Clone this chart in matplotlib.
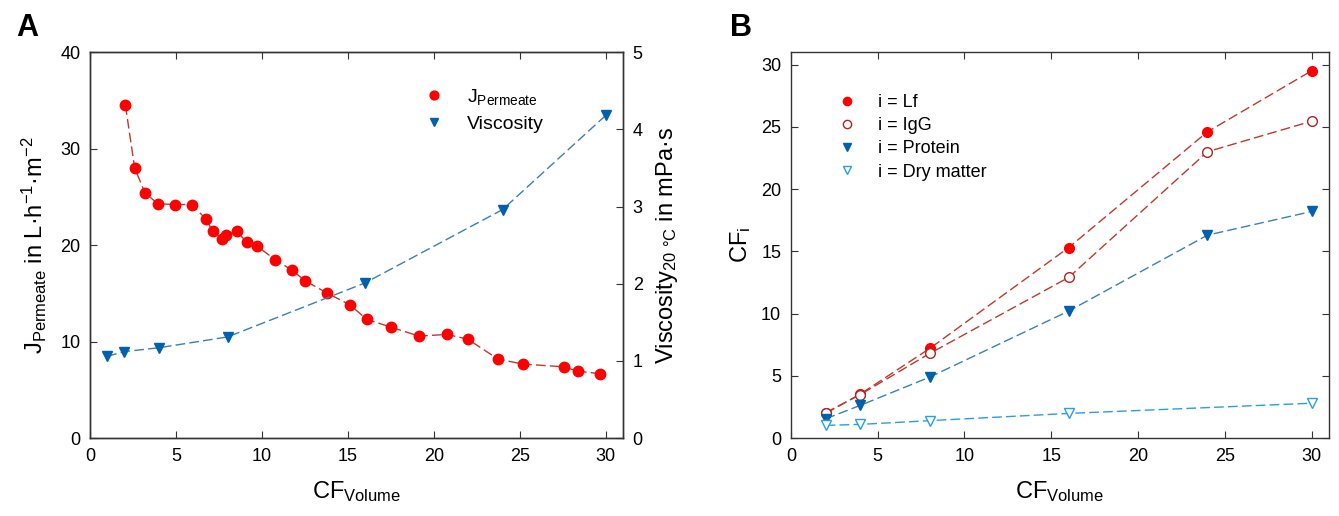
import matplotlib
matplotlib.use("Agg")
import matplotlib.pyplot as plt

plt.rcParams['font.family'] = ['Liberation Sans', 'DejaVu Sans']
plt.rcParams['mathtext.default'] = 'regular'

# panel A: permeate flux and viscosity vs volume concentration factor
cf_flux = [2.06, 2.6, 3.2, 3.94, 4.93, 5.93, 6.74, 7.14, 7.7, 7.93, 8.53, 9.12, 9.72,
           10.76, 11.75, 12.52, 13.76, 15.13, 16.1, 17.5, 19.14, 20.75, 21.97, 23.73,
           25.17, 27.55, 28.37, 29.66]
flux = [34.5, 28.0, 25.4, 24.3, 24.2, 24.2, 22.7, 21.45, 20.65, 21.07, 21.45, 20.3, 19.9,
        18.5, 17.4, 16.3, 15.06, 13.8, 12.3, 11.5, 10.57, 10.74, 10.26, 8.19,
        7.67, 7.39, 6.94, 6.67]
cf_visc = [1, 2, 4, 8, 16, 24, 30]
visc = [1.06, 1.12, 1.17, 1.31, 2.01, 2.96, 4.18]

# panel B: concentration factors of components
cf_b = [2, 4, 8, 16, 24, 30]
cf_lf = [1.98, 3.54, 7.2, 15.3, 24.6, 29.5]
cf_igg = [2.04, 3.5, 6.8, 12.9, 23.0, 25.45]
cf_protein = [1.55, 2.63, 4.9, 10.2, 16.3, 18.2]
cf_b_dm = [2, 4, 8, 16, 30]
cf_dm = [1.02, 1.1, 1.4, 1.98, 2.8]

red = '#ff0000'
red_line = '#c0392b'
blue = '#0060b0'
blue_line = '#3a80b0'
light_blue = '#2a9fdc'
spine_col = '#333333'
dash = (7, 3)

fig = plt.figure(figsize=(13.39, 5.16), dpi=100)
axA = fig.add_axes([0.0672, 0.151, 0.398, 0.748])
axB = fig.add_axes([0.5907, 0.151, 0.4018, 0.748])


def style(ax):
    ax.tick_params(direction='in', length=5, labelsize=13, color=spine_col, pad=7)
    for s in ax.spines.values():
        s.set_color(spine_col)
        s.set_linewidth(1.0)


# ---- panel A
axA.plot(cf_flux, flux, linestyle='--', dashes=dash, color=red_line, lw=1.0)
hj, = axA.plot(cf_flux, flux, 'o', color=red, ms=7.5, label='J$_{Permeate}$')
axA.set_xlim(0, 31)
axA.set_ylim(0, 40)
axA.set_xticks([0, 5, 10, 15, 20, 25, 30])
axA.set_yticks([0, 10, 20, 30, 40])
axA.tick_params(top=True)
axA.set_xlabel('CF$_{Volume}$', fontsize=17, labelpad=10)
axA.set_ylabel('J$_{Permeate}$ in L·h$^{-1}$·m$^{-2}$', fontsize=17, labelpad=8)
style(axA)

axA2 = axA.twinx()
axA2.plot(cf_visc, visc, linestyle='--', dashes=dash, color=blue_line, lw=1.0)
hv, = axA2.plot(cf_visc, visc, 'v', color=blue, ms=7.5, label='Viscosity')
axA2.set_ylim(0, 5)
axA2.set_yticks([0, 1, 2, 3, 4, 5])
axA2.set_ylabel('Viscosity$_{20\\ °C}$ in mPa·s', fontsize=17, labelpad=8)
style(axA2)
legA = axA2.legend(handles=[hj, hv], loc='upper left', bbox_to_anchor=(0.594, 0.956),
                   frameon=False, fontsize=14, handletextpad=1.2, labelspacing=0.45,
                   handlelength=1.0, markerscale=0.85)

fig.text(0.012, 0.93, 'A', fontsize=22, fontweight='bold')

# ---- panel B (lines first, marker-only handles for the legend)
series = [
    (cf_b, cf_lf, red_line, 'o', red, red, 'i = Lf'),
    (cf_b, cf_igg, red_line, 'o', 'white', '#b22222', 'i = IgG'),
    (cf_b, cf_protein, blue_line, 'v', blue, blue, 'i = Protein'),
    (cf_b_dm, cf_dm, light_blue, 'v', 'white', light_blue, 'i = Dry matter'),
]
handles = []
for xs, ys, lc, mk, fc, ec, lab in series:
    axB.plot(xs, ys, linestyle='--', dashes=dash, color=lc, lw=1.0)
    h, = axB.plot(xs, ys, linestyle='none', marker=mk, ms=7.5 if mk == 'v' else 7,
                  mfc=fc, mec=ec, label=lab)
    handles.append(h)
axB.set_xlim(0, 31)
axB.set_ylim(0, 31)
axB.set_xticks([0, 5, 10, 15, 20, 25, 30])
axB.set_yticks([0, 5, 10, 15, 20, 25, 30])
axB.tick_params(top=True, right=True)
axB.set_xlabel('CF$_{Volume}$', fontsize=17, labelpad=10)
axB.set_ylabel('CF$_{i}$', fontsize=17, labelpad=6)
style(axB)
axB.legend(handles=handles, loc='upper left', bbox_to_anchor=(0.057, 0.934),
           frameon=False, fontsize=13, handletextpad=1.2, labelspacing=0.35,
           handlelength=1.0, markerscale=0.85)

fig.text(0.545, 0.93, 'B', fontsize=22, fontweight='bold')

fig.savefig('out.png', dpi=100)
